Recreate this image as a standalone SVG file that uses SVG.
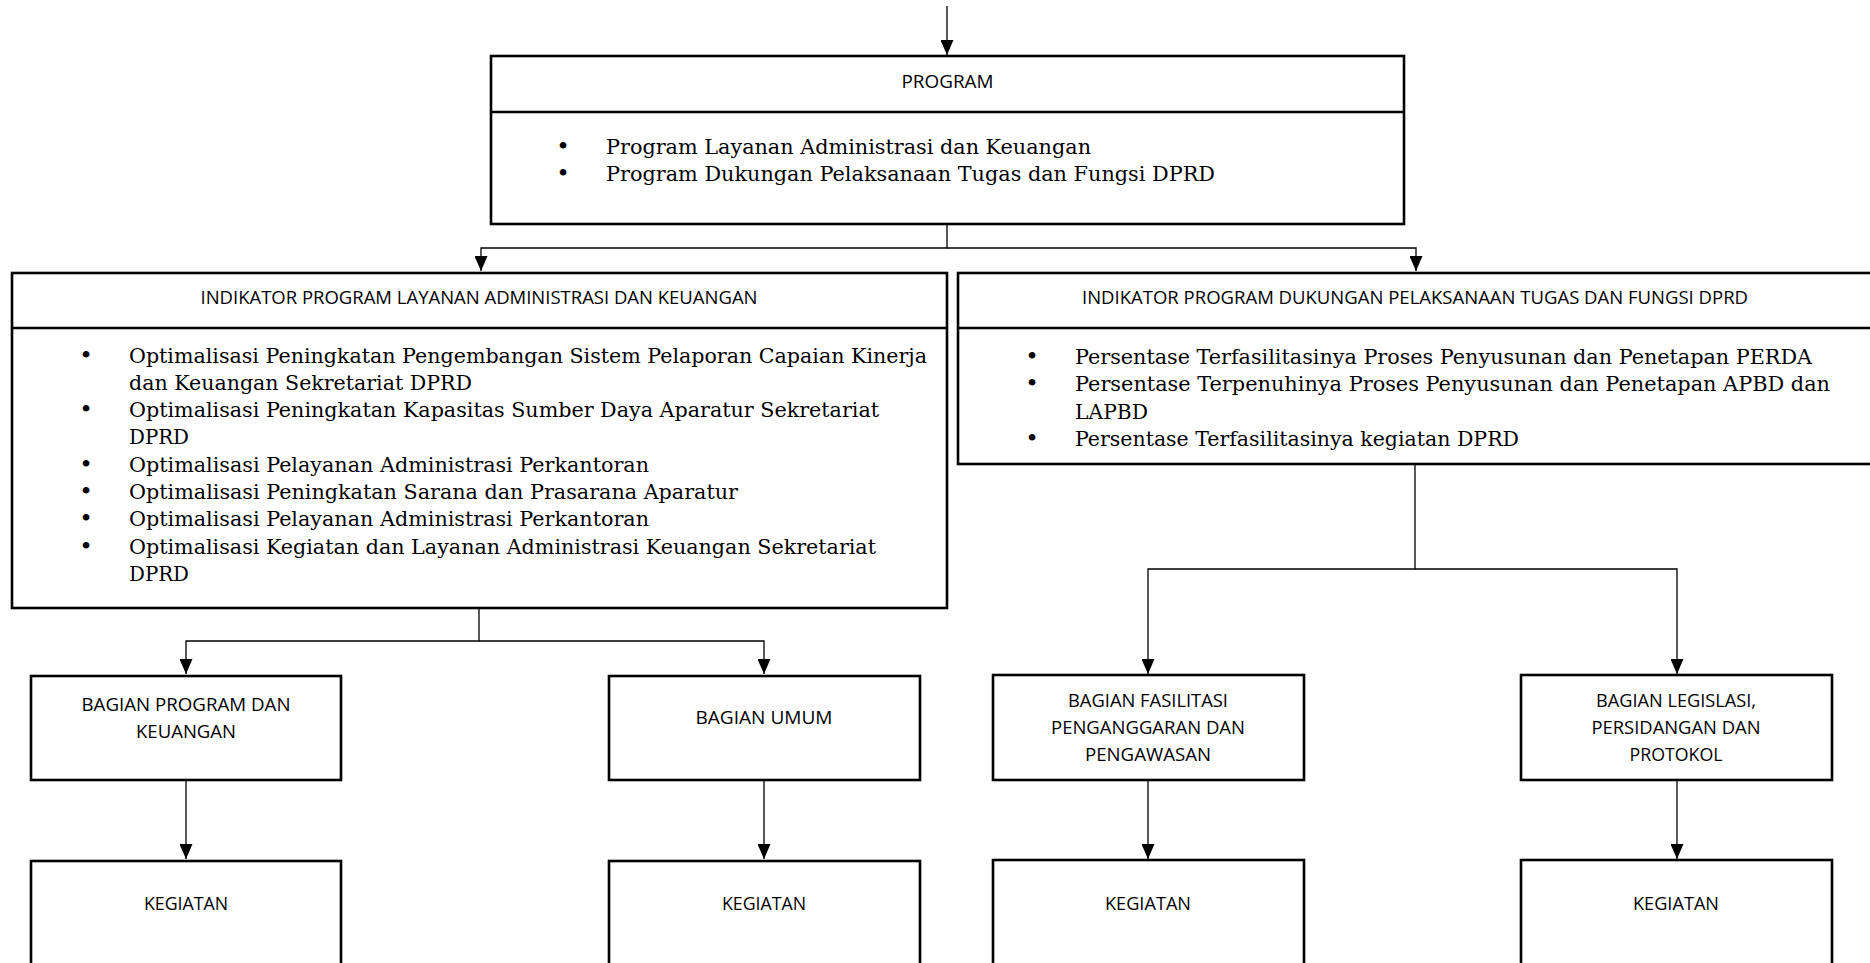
<svg xmlns="http://www.w3.org/2000/svg" width="1870" height="963" viewBox="0 0 1870 963">
<defs>
<style>
.box{fill:#fff;stroke:#000;stroke-width:2.6}
.div{stroke:#000;stroke-width:2.6}
.con{fill:none;stroke:#000;stroke-width:1.3}
.t{font-family:"Open Sans","Liberation Sans",sans-serif;font-size:18px;fill:#000;text-anchor:middle}
.s{font-family:"DejaVu Serif","Liberation Serif",serif;font-size:20px;fill:#000}
.b{font-family:"DejaVu Serif","Liberation Serif",serif;font-size:23px;fill:#000;text-anchor:middle}
</style>
<marker id="ah" markerUnits="userSpaceOnUse" markerWidth="15" markerHeight="13" refX="15" refY="6.5" orient="auto" viewBox="0 0 15 13">
<path d="M0,0 L15,6.5 L0,13 Z" fill="#000"/>
</marker>
</defs>
<rect width="1870" height="963" fill="#fff"/>

<g id="connectors">
<line class="con" x1="947" y1="6" x2="947" y2="55" marker-end="url(#ah)"/>
<polyline class="con" points="947,224 947,248 481,248 481,271" marker-end="url(#ah)"/>
<polyline class="con" points="947,248 1416,248 1416,271" marker-end="url(#ah)"/>
<polyline class="con" points="479,608 479,641 186,641 186,674" marker-end="url(#ah)"/>
<polyline class="con" points="479,641 764,641 764,674" marker-end="url(#ah)"/>
<polyline class="con" points="1415,464 1415,569 1148,569 1148,674" marker-end="url(#ah)"/>
<polyline class="con" points="1415,569 1677,569 1677,674" marker-end="url(#ah)"/>
<line class="con" x1="186" y1="780" x2="186" y2="859" marker-end="url(#ah)"/>
<line class="con" x1="764" y1="780" x2="764" y2="859" marker-end="url(#ah)"/>
<line class="con" x1="1148" y1="780" x2="1148" y2="859" marker-end="url(#ah)"/>
<line class="con" x1="1677" y1="780" x2="1677" y2="859" marker-end="url(#ah)"/>
</g>

<g id="program">
<rect class="box" x="491" y="56" width="913" height="168"/>
<line class="div" x1="491" y1="112" x2="1404" y2="112"/>
<text class="t" x="947.5" y="87.5" textLength="92" lengthAdjust="spacingAndGlyphs">PROGRAM</text>
<text class="b" x="563" y="154">•</text>
<text class="s" x="606" y="154" textLength="485" lengthAdjust="spacingAndGlyphs">Program Layanan Administrasi dan Keuangan</text>
<text class="b" x="563" y="181">•</text>
<text class="s" x="606" y="181" textLength="609" lengthAdjust="spacingAndGlyphs">Program Dukungan Pelaksanaan Tugas dan Fungsi DPRD</text>
</g>

<g id="indikator-layanan">
<rect class="box" x="12" y="273" width="935" height="335"/>
<line class="div" x1="12" y1="328" x2="947" y2="328"/>
<text class="t" x="479" y="304" textLength="557" lengthAdjust="spacingAndGlyphs">INDIKATOR PROGRAM LAYANAN ADMINISTRASI DAN KEUANGAN</text>
<text class="b" x="86" y="362.5">•</text>
<text class="s" x="129" y="362.5" textLength="798" lengthAdjust="spacingAndGlyphs">Optimalisasi Peningkatan Pengembangan Sistem Pelaporan Capaian Kinerja</text>
<text class="s" x="129" y="389.8" textLength="343" lengthAdjust="spacingAndGlyphs">dan Keuangan Sekretariat DPRD</text>
<text class="b" x="86" y="417.1">•</text>
<text class="s" x="129" y="417.1" textLength="750" lengthAdjust="spacingAndGlyphs">Optimalisasi Peningkatan Kapasitas Sumber Daya Aparatur Sekretariat</text>
<text class="s" x="129" y="444.4" textLength="60" lengthAdjust="spacingAndGlyphs">DPRD</text>
<text class="b" x="86" y="471.7">•</text>
<text class="s" x="129" y="471.7" textLength="520" lengthAdjust="spacingAndGlyphs">Optimalisasi Pelayanan Administrasi Perkantoran</text>
<text class="b" x="86" y="499">•</text>
<text class="s" x="129" y="499" textLength="609" lengthAdjust="spacingAndGlyphs">Optimalisasi Peningkatan Sarana dan Prasarana Aparatur</text>
<text class="b" x="86" y="526.3">•</text>
<text class="s" x="129" y="526.3" textLength="520" lengthAdjust="spacingAndGlyphs">Optimalisasi Pelayanan Administrasi Perkantoran</text>
<text class="b" x="86" y="553.6">•</text>
<text class="s" x="129" y="553.6" textLength="747" lengthAdjust="spacingAndGlyphs">Optimalisasi Kegiatan dan Layanan Administrasi Keuangan Sekretariat</text>
<text class="s" x="129" y="580.9" textLength="60" lengthAdjust="spacingAndGlyphs">DPRD</text>
</g>

<g id="indikator-dukungan">
<rect class="box" x="958" y="273" width="914" height="191"/>
<line class="div" x1="958" y1="328" x2="1872" y2="328"/>
<text class="t" x="1415" y="304" textLength="666" lengthAdjust="spacingAndGlyphs">INDIKATOR PROGRAM DUKUNGAN PELAKSANAAN TUGAS DAN FUNGSI DPRD</text>
<text class="b" x="1032" y="364">•</text>
<text class="s" x="1075" y="364" textLength="737" lengthAdjust="spacingAndGlyphs">Persentase Terfasilitasinya Proses Penyusunan dan Penetapan PERDA</text>
<text class="b" x="1032" y="391.3">•</text>
<text class="s" x="1075" y="391.3" textLength="755" lengthAdjust="spacingAndGlyphs">Persentase Terpenuhinya Proses Penyusunan dan Penetapan APBD dan</text>
<text class="s" x="1075" y="418.5" textLength="73" lengthAdjust="spacingAndGlyphs">LAPBD</text>
<text class="b" x="1032" y="445.8">•</text>
<text class="s" x="1075" y="445.8" textLength="444" lengthAdjust="spacingAndGlyphs">Persentase Terfasilitasinya kegiatan DPRD</text>
</g>

<g id="bagian-program-keuangan">
<rect class="box" x="31" y="676" width="310" height="104"/>
<text class="t" x="186" y="710.5" textLength="209" lengthAdjust="spacingAndGlyphs">BAGIAN PROGRAM DAN</text>
<text class="t" x="186" y="738" textLength="100" lengthAdjust="spacingAndGlyphs">KEUANGAN</text>
</g>

<g id="bagian-umum">
<rect class="box" x="609" y="676" width="311" height="104"/>
<text class="t" x="764" y="723.5" textLength="137" lengthAdjust="spacingAndGlyphs">BAGIAN UMUM</text>
</g>

<g id="bagian-fasilitasi">
<rect class="box" x="993" y="675" width="311" height="105"/>
<text class="t" x="1148" y="706.5" textLength="160" lengthAdjust="spacingAndGlyphs">BAGIAN FASILITASI</text>
<text class="t" x="1148" y="733.5" textLength="194" lengthAdjust="spacingAndGlyphs">PENGANGGARAN DAN</text>
<text class="t" x="1148" y="760.5" textLength="126" lengthAdjust="spacingAndGlyphs">PENGAWASAN</text>
</g>

<g id="bagian-legislasi">
<rect class="box" x="1521" y="675" width="311" height="105"/>
<text class="t" x="1676" y="706.5" textLength="160" lengthAdjust="spacingAndGlyphs">BAGIAN LEGISLASI,</text>
<text class="t" x="1676" y="733.5" textLength="169" lengthAdjust="spacingAndGlyphs">PERSIDANGAN DAN</text>
<text class="t" x="1676" y="760.5" textLength="93" lengthAdjust="spacingAndGlyphs">PROTOKOL</text>
</g>

<g id="kegiatan-1">
<rect class="box" x="31" y="861" width="310" height="120"/>
<text class="t" x="186" y="909.5" textLength="84" lengthAdjust="spacingAndGlyphs">KEGIATAN</text>
</g>
<g id="kegiatan-2">
<rect class="box" x="609" y="861" width="311" height="120"/>
<text class="t" x="764" y="909.5" textLength="84" lengthAdjust="spacingAndGlyphs">KEGIATAN</text>
</g>
<g id="kegiatan-3">
<rect class="box" x="993" y="860" width="311" height="120"/>
<text class="t" x="1148" y="909.5" textLength="86" lengthAdjust="spacingAndGlyphs">KEGIATAN</text>
</g>
<g id="kegiatan-4">
<rect class="box" x="1521" y="860" width="311" height="120"/>
<text class="t" x="1676" y="909.5" textLength="86" lengthAdjust="spacingAndGlyphs">KEGIATAN</text>
</g>
</svg>
